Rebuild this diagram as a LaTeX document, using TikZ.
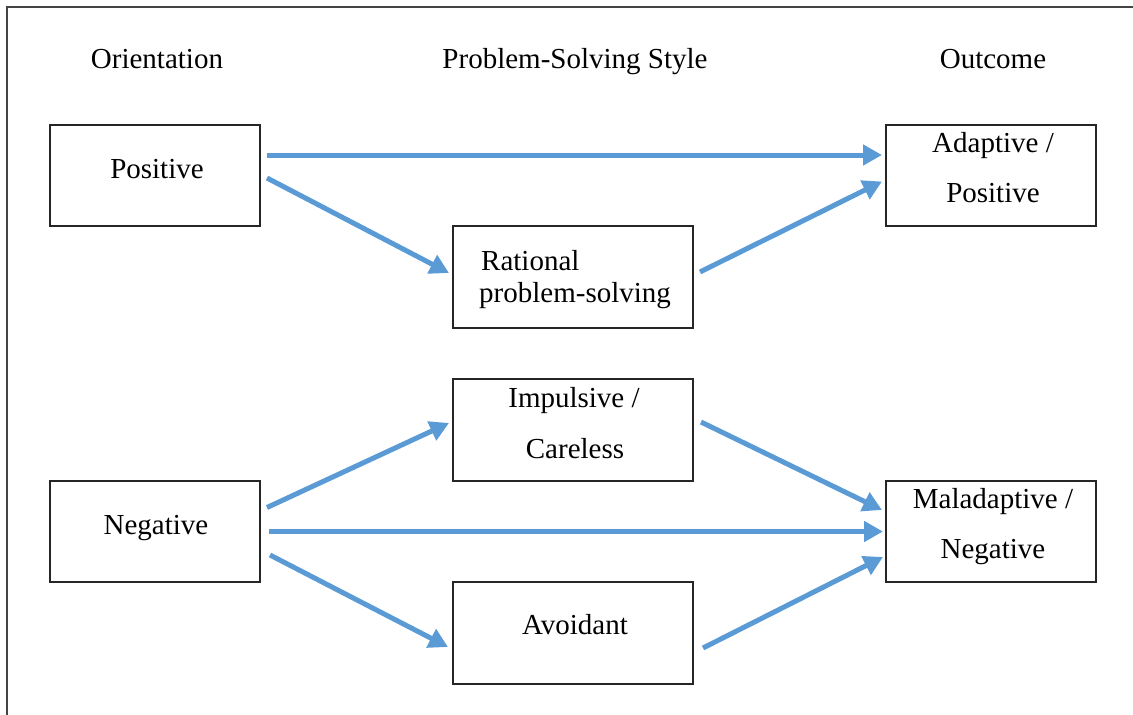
\documentclass[tikz,border=0pt]{standalone}
\usepackage{fontspec}
\setmainfont{Liberation Serif}
\usetikzlibrary{arrows.meta,calc}
\definecolor{flow}{HTML}{5B9BD5}
\definecolor{frameline}{HTML}{444444}
\begin{document}
\begin{tikzpicture}[x=1pt,y=-1pt,
  box/.style={draw=black!85,line width=1.3pt,minimum width=210pt,minimum height=101pt,inner sep=0pt,outer sep=0pt},
  midbox/.style={box,minimum width=240pt,minimum height=102pt},
  lbl/.style={anchor=base,inner sep=0pt,font=\fontsize{29}{35}\selectfont},
  lblw/.style={lbl,anchor=base west},
  link/.style={flow,line width=5pt,-{Triangle[length=19pt,width=20pt]}}]
\useasboundingbox (0,0) rectangle (1133,715);
% outer frame (left and top edges)
\draw[frameline,line width=2pt] (7,715) -- (7,7) -- (1133,7);

% column headings
\node[lbl] (h1) at (157,68) {Orientation};
\node[lbl] (h2) at (575,68) {Problem-Solving Style};
\node[lbl] (h3) at (993,68) {Outcome};

% boxes
\node[box]    (pos)   at (155,175.5) {};
\node[box]    (adapt) at (991,175.5) {};
\node[midbox] (rat)   at (573,277) {};
\node[midbox] (imp)   at (573,430) {};
\node[box]    (neg)   at (155,531.5) {};
\node[box]    (mal)   at (991,531.5) {};
\node[midbox] (avo)   at (573,633) {};

% box texts
\node[lbl] (posT) at (157,178) {Positive};
\node[lbl] (adaptT1) at (993,152) {Adaptive /};
\node[lbl] (adaptT2) at (993,202) {Positive};
\node[lblw] (ratT1) at (481,270) {Rational};
\node[lblw] (ratT2) at (479,302) {problem-solving};
\node[lbl] (impT1) at (574,407) {Impulsive /};
\node[lbl] (impT2) at (575,458) {Careless};
\node[lbl] (negT) at (156,534) {Negative};
\node[lbl] (malT1) at (993,508) {Maladaptive /};
\node[lbl] (malT2) at (993,558) {Negative};
\node[lbl] (avoT) at (575,634) {Avoidant};

% connectors
\draw[link] ($(pos.east)+(7,-20.5)$) -- ($(adapt.west)+(-4,-20.5)$);
\draw[link] ($(pos.east)+(7,2.5)$) -- ($(rat.west)+(-4,-4)$);
\draw[link] ($(rat.east)+(7,-5)$) -- ($(adapt.west)+(-4,6)$);
\draw[link] ($(neg.east)+(7,-24)$) -- ($(imp.west)+(-4,-7)$);
\draw[link] ($(neg.east)+(9,0)$) -- ($(mal.west)+(-3,0)$);
\draw[link] ($(neg.east)+(10,23.5)$) -- ($(avo.west)+(-5,14)$);
\draw[link] ($(imp.east)+(8,-8)$) -- ($(mal.west)+(-4,-21.5)$);
\draw[link] ($(avo.east)+(10,15)$) -- ($(mal.west)+(-3,25.5)$);
\end{tikzpicture}
\end{document}
